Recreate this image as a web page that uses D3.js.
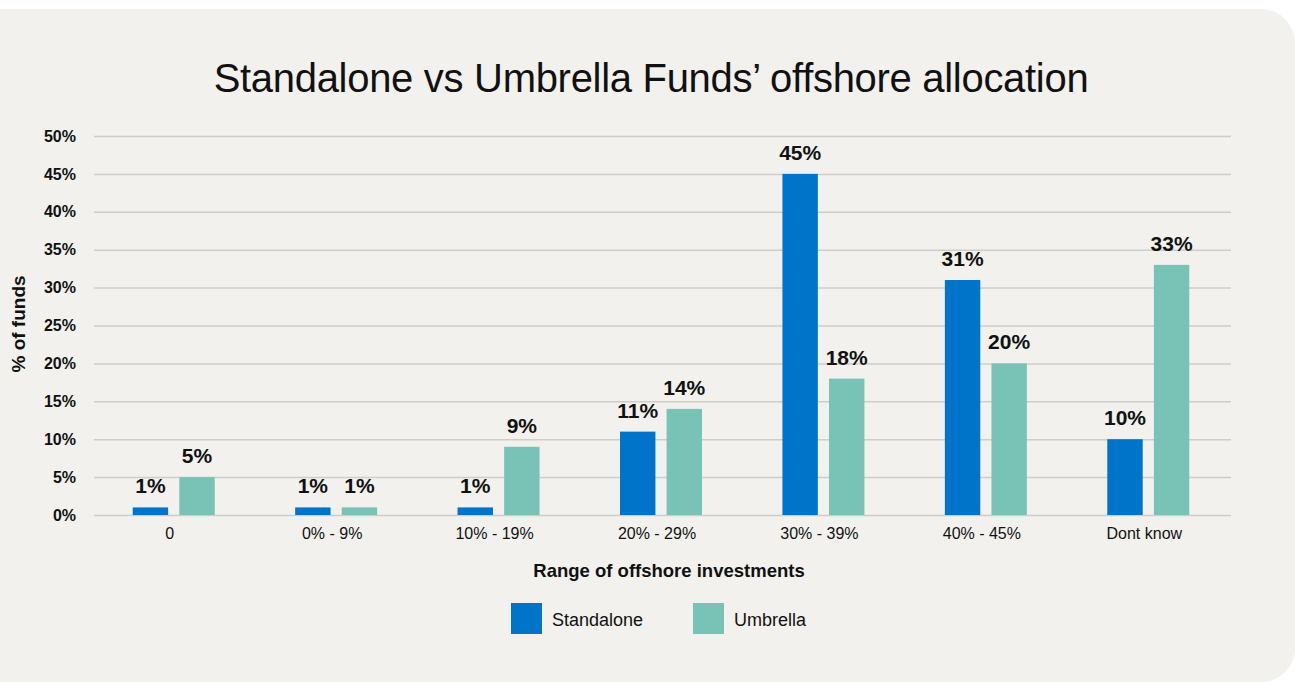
<!DOCTYPE html>
<html>
<head>
<meta charset="utf-8">
<script src="https://cdn.jsdelivr.net/npm/d3@7"></script>
<style>
  html, body { margin: 0; padding: 0; background: #ffffff; }
  svg { display: block; }
</style>
</head>
<body>
<svg id="chart" width="1295" height="682"></svg>
<script>
// Offshore allocation ranges and the share of funds in each, by fund type
const categories = ["0", "0% - 9%", "10% - 19%", "20% - 29%", "30% - 39%", "40% - 45%", "Dont know"];
const seriesNames = ["Standalone", "Umbrella"];
const standalone = [1, 1, 1, 11, 45, 31, 10];
const umbrella = [5, 1, 9, 14, 18, 20, 33];
const yTicks = [0, 5, 10, 15, 20, 25, 30, 35, 40, 45, 50];

const colors = { Standalone: "#0074c9", Umbrella: "#78c3b6" };
const font = "'Liberation Sans', Arial, Helvetica, sans-serif";

const svg = d3.select("#chart");
const W = 1295, H = 682;

// rounded panel
svg.append("path")
  .attr("d", (() => {
    const x0 = 0, y0 = 9, x1 = W, y1 = H, r = 34;
    return `M${x0},${y0} H${x1 - r} A${r},${r} 0 0 1 ${x1},${y0 + r} V${y1 - r} A${r},${r} 0 0 1 ${x1 - r},${y1} H${x0} Z`;
  })())
  .attr("fill", "#f2f1ee");

const plot = { left: 94, right: 1231, top: 136, bottom: 515 };

const x = d3.scaleBand().domain(categories).range([plot.left - 1.5, plot.right - 1.5]);
const y = d3.scaleLinear().domain([0, 50]).range([plot.bottom, plot.top]);
const xs = d3.scaleBand().domain(seriesNames).range([-41, 41]).paddingInner(0.24);

// title
svg.append("text")
  .attr("x", 651).attr("y", 92)
  .attr("text-anchor", "middle")
  .attr("font-family", font)
  .attr("font-size", 40)
  .attr("letter-spacing", -0.3)
  .attr("fill", "#111")
  .text("Standalone vs Umbrella Funds\u2019 offshore allocation");

// gridlines + y axis labels
const yAxis = d3.axisLeft(y).tickValues(yTicks).tickFormat(d => d + "%")
  .tickSize(-(plot.right - plot.left)).tickPadding(18);
const gy = svg.append("g").attr("transform", `translate(${plot.left},0)`).call(yAxis);
gy.select(".domain").remove();
gy.selectAll(".tick line").attr("stroke", "#cfcdca").attr("stroke-width", 1.5);
gy.selectAll(".tick text")
  .attr("font-family", font).attr("font-size", 16).attr("font-weight", "bold")
  .attr("fill", "#111");

// y axis title
svg.append("text")
  .attr("transform", "translate(25,324) rotate(-90)")
  .attr("text-anchor", "middle")
  .attr("font-family", font).attr("font-size", 19).attr("font-weight", "bold")
  .attr("fill", "#111")
  .text("% of funds");

// bars
const rows = categories.map((c, i) => ({ cat: c, Standalone: standalone[i], Umbrella: umbrella[i] }));
const groups = svg.append("g").selectAll("g").data(rows).join("g")
  .attr("transform", d => `translate(${x(d.cat) + x.bandwidth() / 2},0)`);

groups.selectAll("rect")
  .data(d => seriesNames.map(s => ({ s, v: d[s] })))
  .join("rect")
  .attr("x", d => xs(d.s))
  .attr("width", xs.bandwidth())
  .attr("y", d => y(d.v))
  .attr("height", d => y(0) - y(d.v))
  .attr("fill", d => colors[d.s]);

groups.selectAll("text.val")
  .data(d => seriesNames.map(s => ({ s, v: d[s] })))
  .join("text")
  .attr("class", "val")
  .attr("x", d => xs(d.s) + xs.bandwidth() / 2)
  .attr("y", d => y(d.v) - 14)
  .attr("text-anchor", "middle")
  .attr("font-family", font).attr("font-size", 21).attr("font-weight", "bold")
  .attr("fill", "#111")
  .text(d => d.v + "%");

// x axis labels
const xAxis = d3.axisBottom(x).tickSize(0).tickPadding(13);
const gx = svg.append("g").attr("transform", `translate(-4,${plot.bottom})`).call(xAxis);
gx.select(".domain").remove();
gx.selectAll(".tick text")
  .attr("font-family", font).attr("font-size", 16)
  .attr("fill", "#111");

// x axis title
svg.append("text")
  .attr("x", 669).attr("y", 577)
  .attr("text-anchor", "middle")
  .attr("font-family", font).attr("font-size", 18.5).attr("font-weight", "bold")
  .attr("fill", "#111")
  .text("Range of offshore investments");

// legend
const legendX = [511, 693];
const legend = svg.append("g").selectAll("g").data(seriesNames).join("g")
  .attr("transform", (d, i) => `translate(${legendX[i]},603)`);
legend.append("rect").attr("width", 31).attr("height", 31).attr("fill", d => colors[d]);
legend.append("text")
  .attr("x", 41).attr("y", 23)
  .attr("font-family", font).attr("font-size", 18)
  .attr("fill", "#111")
  .text(d => d);
</script>
</body>
</html>
